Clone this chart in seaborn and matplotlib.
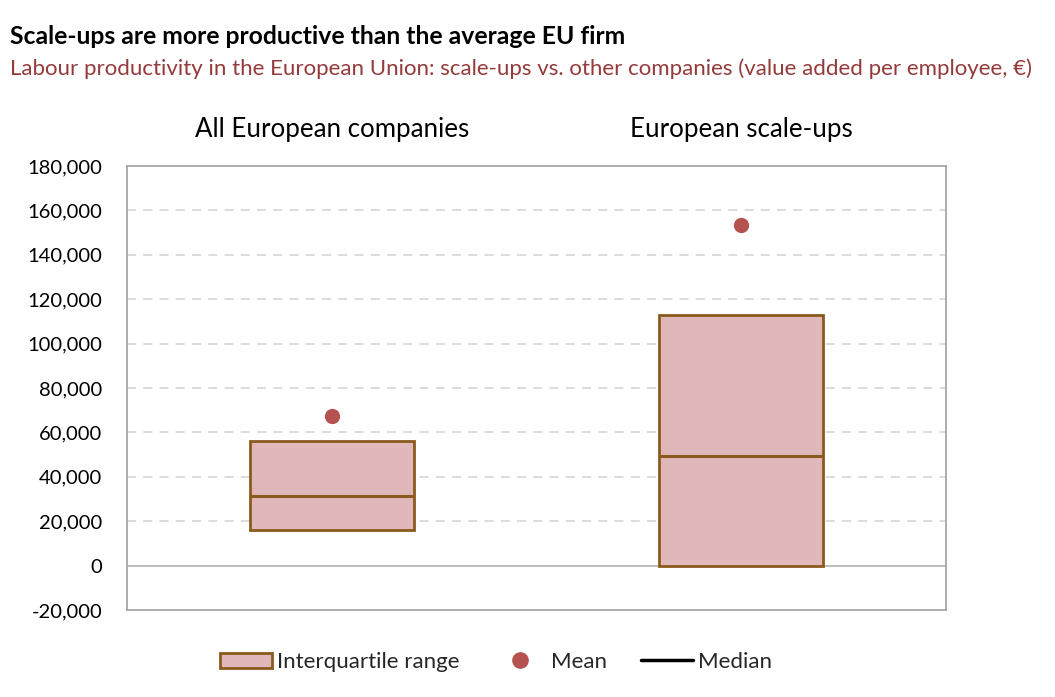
import numpy as np
import pandas as pd
import seaborn as sns
import matplotlib
matplotlib.use("Agg")
import matplotlib.pyplot as plt
from matplotlib.patches import Patch
from matplotlib.lines import Line2D
from matplotlib.ticker import FuncFormatter

# values (value added per employee, EUR)
groups = ["All European companies", "European scale-ups"]
q1 = [16000, 0]
q3 = [56000, 113000]
median = [31500, 49500]
mean = [67500, 153500]
yticks = list(range(-20000, 180001, 20000))

sns.set_theme(style="white")
plt.rcParams["font.family"] = ["Lato", "DejaVu Sans"]

box_fill = "#E0B8B9"
box_edge = "#8B5A1E"
dot_col = "#B55250"
sub_col = "#953A3A"

df = pd.DataFrame({"group": groups, "iqr": np.array(q3) - np.array(q1),
                   "mean": mean})

fig = plt.figure(figsize=(10.55, 6.97), dpi=100)
ax = fig.add_axes([0.1204, 0.1248, 0.7763, 0.637])

sns.barplot(data=df, x="group", y="iqr", bottom=q1, width=0.4,
            color=box_fill, edgecolor=box_edge, linewidth=2, saturation=1,
            errorbar=None, ax=ax, zorder=3)
pos = np.arange(len(groups))
ax.hlines(median, pos - 0.2, pos + 0.2, colors=box_edge, linewidth=2.2, zorder=4)
sns.stripplot(data=df, x="group", y="mean", jitter=False, color=dot_col,
              size=11, linewidth=0, ax=ax, zorder=5)

ax.set_xlim(-0.5, 1.5)
ax.set_ylim(-20000, 180000)
ax.set_yticks(yticks)
ax.yaxis.set_major_formatter(FuncFormatter(lambda v, p: f"{int(v):,}"))
for t in yticks[2:-1]:
    ax.axhline(t, color="#D9D9D9", linewidth=1.3, linestyle=(0, (5, 4)), zorder=1)
ax.axhline(0, color="#BFBFBF", linewidth=1.5, zorder=2)

ax.xaxis.tick_top()
ax.set_xlabel("")
ax.set_ylabel("")
ax.tick_params(axis="x", length=0, pad=17, labelsize=18.6, colors="black")
ax.tick_params(axis="y", length=0, pad=17.7, labelsize=14.5, colors="black")
for s in ax.spines.values():
    s.set_color("#A6A6A6")
    s.set_linewidth(1.3)

fig.text(0.0095, 0.947, "Scale-ups are more productive than the average EU firm",
         fontsize=17.8, fontweight="bold", va="center", ha="left", color="black")
fig.text(0.0095, 0.902, "Labour productivity in the European Union: scale-ups vs. other companies (value added per employee, \u20ac)",
         fontsize=16, va="center", ha="left", color=sub_col)

handles = [Patch(facecolor=box_fill, edgecolor=box_edge, linewidth=2),
           Line2D([], [], marker="o", linestyle="none", color=dot_col, markersize=11),
           Line2D([], [], color="black", linewidth=2.5)]
labels = ["Interquartile range", "Mean", "Median"]
fig.legend(handles, labels, loc="center", bbox_to_anchor=(0.470, 0.05), ncol=3,
           frameon=False, fontsize=16, handlelength=2.34, handletextpad=0.23,
           columnspacing=1.53)

fig.savefig("out.png", dpi=100)
